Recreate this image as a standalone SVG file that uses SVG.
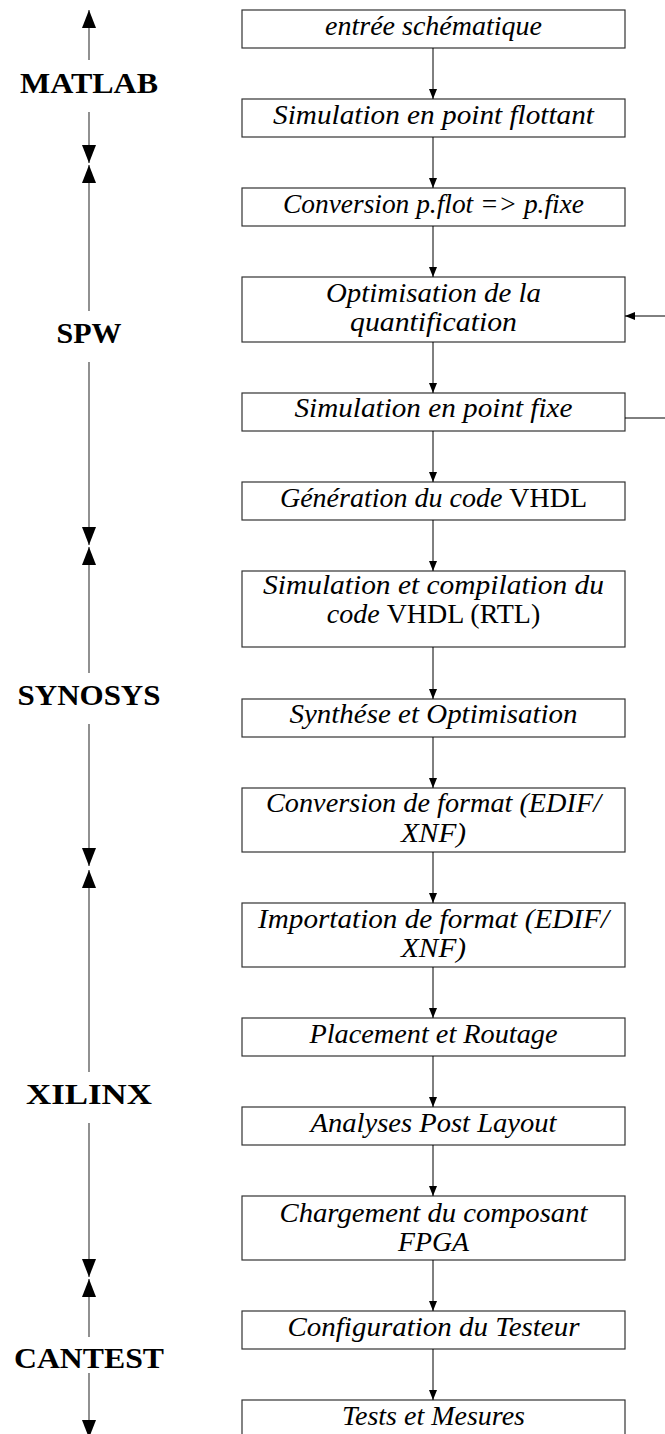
<svg xmlns="http://www.w3.org/2000/svg" width="665" height="1434" viewBox="0 0 665 1434">
<style>
.box{fill:#fff;stroke:#333;stroke-width:1.2}
.t{font-family:"Liberation Serif",serif;font-style:italic;font-size:28px;fill:#000;text-anchor:middle}
.u{font-style:normal}
.lbl{font-family:"Liberation Serif",serif;font-weight:bold;font-size:30px;fill:#000;text-anchor:middle}
.c{stroke:#000;stroke-width:1;fill:none;marker-end:url(#sa)}
.ax{stroke:#555;stroke-width:1.3;fill:none}
.up{marker-start:url(#ba)}
.dn{marker-end:url(#ba)}
</style>
<defs>
<marker id="sa" viewBox="0 0 10 8" refX="10" refY="4" markerWidth="10" markerHeight="8" markerUnits="userSpaceOnUse" orient="auto"><path d="M0,0 L10,4 L0,8 z" fill="#000"/></marker>
<marker id="ba" viewBox="0 0 18 14" refX="18" refY="7" markerWidth="18" markerHeight="14" markerUnits="userSpaceOnUse" orient="auto-start-reverse"><path d="M0,0 L18,7 L0,14 z" fill="#000"/></marker>
</defs>
<g id="axis">
<line class="ax up" x1="89" y1="10" x2="89" y2="60"/>
<text class="lbl" x="89" y="93" textLength="138" lengthAdjust="spacingAndGlyphs">MATLAB</text>
<line class="ax dn" x1="89" y1="112" x2="89" y2="163"/>
<line class="ax up" x1="89" y1="165" x2="89" y2="311"/>
<text class="lbl" x="89" y="343" textLength="65" lengthAdjust="spacingAndGlyphs">SPW</text>
<line class="ax dn" x1="89" y1="362" x2="89" y2="545"/>
<line class="ax up" x1="89" y1="547" x2="89" y2="673"/>
<text class="lbl" x="89" y="705" textLength="143" lengthAdjust="spacingAndGlyphs">SYNOSYS</text>
<line class="ax dn" x1="89" y1="724" x2="89" y2="866"/>
<line class="ax up" x1="89" y1="870" x2="89" y2="1072"/>
<text class="lbl" x="89" y="1104" textLength="126" lengthAdjust="spacingAndGlyphs">XILINX</text>
<line class="ax dn" x1="89" y1="1123" x2="89" y2="1277"/>
<line class="ax up" x1="89" y1="1279" x2="89" y2="1337"/>
<text class="lbl" x="89" y="1368" textLength="150" lengthAdjust="spacingAndGlyphs">CANTEST</text>
<line class="ax dn" x1="89" y1="1373" x2="89" y2="1438"/>
</g>
<g id="n1"><rect class="box" x="242" y="10" width="383" height="38"/><text class="t" x="433.5" y="35">entrée schématique</text></g>
<g id="n2"><rect class="box" x="242" y="99" width="383" height="38"/><text class="t" x="433.5" y="124" textLength="321" lengthAdjust="spacingAndGlyphs">Simulation en point flottant</text></g>
<g id="n3"><rect class="box" x="242" y="188" width="383" height="38"/><text class="t" x="433.5" y="213" textLength="301" lengthAdjust="spacingAndGlyphs">Conversion p.flot =&gt; p.fixe</text></g>
<g id="n4"><rect class="box" x="242" y="277" width="383" height="65"/><text class="t" x="433.5" y="302" textLength="215" lengthAdjust="spacingAndGlyphs">Optimisation de la</text><text class="t" x="433.5" y="331" textLength="167" lengthAdjust="spacingAndGlyphs">quantification</text></g>
<g id="n5"><rect class="box" x="242" y="393" width="383" height="38"/><text class="t" x="433.5" y="417" textLength="278" lengthAdjust="spacingAndGlyphs">Simulation en point fixe</text></g>
<g id="n6"><rect class="box" x="242" y="482" width="383" height="38"/><text class="t" x="433.5" y="507">Génération du code <tspan class="u">VHDL</tspan></text></g>
<g id="n7"><rect class="box" x="242" y="571" width="383" height="76"/><text class="t" x="433.5" y="594" textLength="341" lengthAdjust="spacingAndGlyphs">Simulation et compilation du</text><text class="t" x="433.5" y="623">code <tspan class="u">VHDL (RTL)</tspan></text></g>
<g id="n8"><rect class="box" x="242" y="699" width="383" height="38"/><text class="t" x="433.5" y="723" textLength="288" lengthAdjust="spacingAndGlyphs">Synthése et Optimisation</text></g>
<g id="n9"><rect class="box" x="242" y="788" width="383" height="64"/><text class="t" x="433.5" y="812" textLength="335" lengthAdjust="spacingAndGlyphs">Conversion de format (EDIF/</text><text class="t" x="433.5" y="842" textLength="65" lengthAdjust="spacingAndGlyphs">XNF)</text></g>
<g id="n10"><rect class="box" x="242" y="903" width="383" height="64"/><text class="t" x="433.5" y="928" textLength="351" lengthAdjust="spacingAndGlyphs">Importation de format (EDIF/</text><text class="t" x="433.5" y="957" textLength="65" lengthAdjust="spacingAndGlyphs">XNF)</text></g>
<g id="n11"><rect class="box" x="242" y="1018" width="383" height="38"/><text class="t" x="433.5" y="1043" textLength="248" lengthAdjust="spacingAndGlyphs">Placement et Routage</text></g>
<g id="n12"><rect class="box" x="242" y="1107" width="383" height="38"/><text class="t" x="433.5" y="1132" textLength="246" lengthAdjust="spacingAndGlyphs">Analyses Post Layout</text></g>
<g id="n13"><rect class="box" x="242" y="1196" width="383" height="64"/><text class="t" x="433.5" y="1222" textLength="308" lengthAdjust="spacingAndGlyphs">Chargement du composant</text><text class="t" x="433.5" y="1251" textLength="71" lengthAdjust="spacingAndGlyphs">FPGA</text></g>
<g id="n14"><rect class="box" x="242" y="1311" width="383" height="38"/><text class="t" x="433.5" y="1336" textLength="292" lengthAdjust="spacingAndGlyphs">Configuration du Testeur</text></g>
<g id="n15"><rect class="box" x="242" y="1400" width="383" height="40"/><text class="t" x="433.5" y="1425">Tests et Mesures</text></g>
<g id="connectors">
<line class="c" x1="433" y1="48" x2="433" y2="99"/>
<line class="c" x1="433" y1="137" x2="433" y2="188"/>
<line class="c" x1="433" y1="226" x2="433" y2="277"/>
<line class="c" x1="433" y1="342" x2="433" y2="393"/>
<line class="c" x1="433" y1="431" x2="433" y2="482"/>
<line class="c" x1="433" y1="520" x2="433" y2="571"/>
<line class="c" x1="433" y1="647" x2="433" y2="699"/>
<line class="c" x1="433" y1="737" x2="433" y2="788"/>
<line class="c" x1="433" y1="852" x2="433" y2="903"/>
<line class="c" x1="433" y1="967" x2="433" y2="1018"/>
<line class="c" x1="433" y1="1056" x2="433" y2="1107"/>
<line class="c" x1="433" y1="1145" x2="433" y2="1196"/>
<line class="c" x1="433" y1="1260" x2="433" y2="1311"/>
<line class="c" x1="433" y1="1349" x2="433" y2="1400"/>
<line x1="625" y1="418" x2="666" y2="418" stroke="#000" stroke-width="1"/>
<line class="c" x1="666" y1="316" x2="625" y2="316"/>
</g>
</svg>
